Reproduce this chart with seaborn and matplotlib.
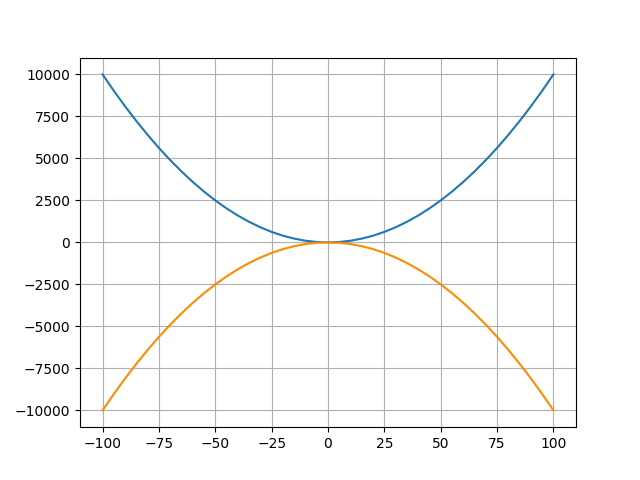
import matplotlib
matplotlib.use('Agg')
import matplotlib.pyplot as plt
import seaborn as sns
import pandas as pd

# valores, cada 5 unidades en x
x_vals = [-100, -95, -90, -85, -80, -75, -70, -65, -60, -55, -50, -45, -40, -35, -30, -25, -20, -15, -10, -5,
          0, 5, 10, 15, 20, 25, 30, 35, 40, 45, 50, 55, 60, 65, 70, 75, 80, 85, 90, 95, 100]
upper_vals = [10000, 9025, 8100, 7225, 6400, 5625, 4900, 4225, 3600, 3025, 2500, 2025, 1600, 1225, 900, 625, 400, 225, 100, 25,
              0, 25, 100, 225, 400, 625, 900, 1225, 1600, 2025, 2500, 3025, 3600, 4225, 4900, 5625, 6400, 7225, 8100, 9025, 10000]
lower_vals = [-10000, -9025, -8100, -7225, -6400, -5625, -4900, -4225, -3600, -3025, -2500, -2025, -1600, -1225, -900, -625, -400, -225, -100, -25,
              0, -25, -100, -225, -400, -625, -900, -1225, -1600, -2025, -2500, -3025, -3600, -4225, -4900, -5625, -6400, -7225, -8100, -9025, -10000]

df = pd.DataFrame({'x': x_vals, 'upper': upper_vals, 'lower': lower_vals})

fig, ax = plt.subplots(figsize=(6.4, 4.8), dpi=100)
sns.lineplot(data=df, x='x', y='upper', color='#1f77b4', ax=ax)
sns.lineplot(data=df, x='x', y='lower', color='darkorange', ax=ax)
ax.set_xlabel('')
ax.set_ylabel('')
ax.grid(True)
fig.savefig('out.png')
